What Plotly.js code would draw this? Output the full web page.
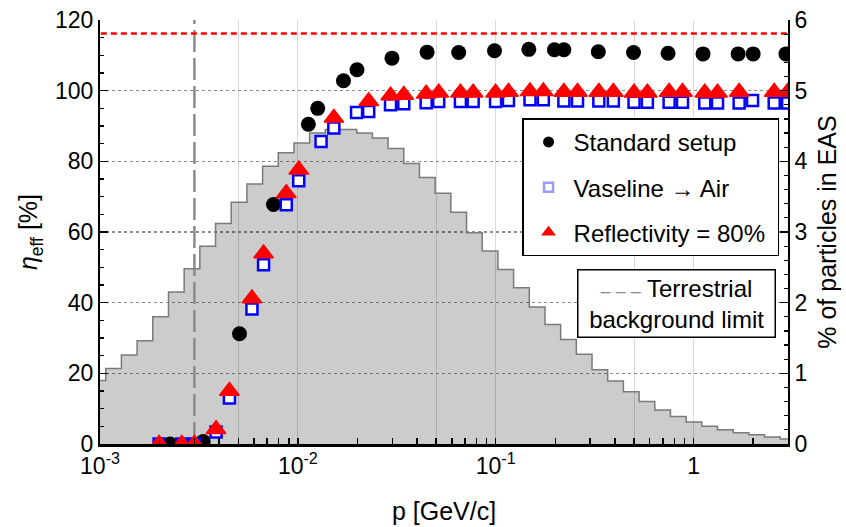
<!DOCTYPE html>
<html>
<head>
<meta charset="utf-8">
<script src="https://cdn.plot.ly/plotly-3.0.1.min.js"></script>
<style>html,body{margin:0;padding:0;background:#fff;}</style>
</head>
<body>
<div id="chart" style="width:846px;height:527px;"></div>
<script>
// ---- Data ----
// Histogram of particle momenta in EAS (% of particles), bin edges in GeV/c
const histEdges = [0.000891, 0.001069, 0.001283, 0.001540, 0.001848, 0.002219, 0.002663, 0.003196, 0.003837, 0.004605,
  0.005527, 0.006634, 0.007963, 0.009558, 0.01147, 0.01377, 0.01653, 0.01984, 0.02381, 0.02858,
  0.03430, 0.04117, 0.04942, 0.05932, 0.07120, 0.08546, 0.1026, 0.1231, 0.1478, 0.1774,
  0.2129, 0.2555, 0.3067, 0.3681, 0.4418, 0.5303, 0.6365, 0.7640, 0.9170, 1.101,
  1.321, 1.586, 1.903, 2.284, 2.742, 3.291];
const histPct = [0.90, 1.07, 1.26, 1.46, 1.80, 2.15, 2.48, 2.80, 3.12, 3.42,
  3.68, 3.93, 4.12, 4.26, 4.40, 4.45, 4.45, 4.40, 4.33, 4.18,
  3.97, 3.77, 3.55, 3.28, 2.99, 2.73, 2.47, 2.21, 1.94, 1.69,
  1.48, 1.27, 1.05, 0.89, 0.74, 0.60, 0.48, 0.39, 0.31, 0.25,
  0.20, 0.16, 0.13, 0.10, 0.07];

// Standard setup
const stdP = [0.00226, 0.00332, 0.00507, 0.00753, 0.0113, 0.0126, 0.0170, 0.0199, 0.0299, 0.0450,
  0.0650, 0.0986, 0.147, 0.198, 0.221, 0.330, 0.497, 0.743, 1.116, 1.679, 2.00, 2.93];
const stdEff = [0.0, 0.7, 31.2, 67.8, 90.5, 95.0, 102.8, 105.9, 109.2, 110.9,
  110.8, 111.3, 111.7, 111.6, 111.6, 111.0, 110.8, 110.6, 110.4, 110.4, 110.4, 110.4];

// Vaseline -> Air
const vasP = [0.00199, 0.00259, 0.00300, 0.00386, 0.00451, 0.00586, 0.00671, 0.00874, 0.0101, 0.0131,
  0.0152, 0.0198, 0.0228, 0.0294, 0.0343, 0.0445, 0.0515, 0.0663, 0.0769, 0.0998,
  0.116, 0.149, 0.174, 0.221, 0.259, 0.332, 0.393, 0.500, 0.584, 0.752,
  0.879, 1.139, 1.321, 1.699, 1.986, 2.555, 2.987];
const vasEff = [0.0, 0.0, 0.0, 3.4, 13.0, 38.2, 50.7, 67.7, 74.5, 85.6,
  89.4, 93.8, 94.1, 96.0, 96.3, 96.6, 96.9, 96.9, 96.9, 96.9,
  97.2, 97.4, 97.4, 97.1, 97.1, 97.1, 97.1, 96.7, 96.7, 96.7,
  96.7, 96.5, 96.5, 96.5, 97.2, 96.5, 96.5];

// Reflectivity = 80%
const refP = [0.00199, 0.00259, 0.00300, 0.00386, 0.00451, 0.00586, 0.00671, 0.00874, 0.0101, 0.0152,
  0.0228, 0.0294, 0.0343, 0.0445, 0.0515, 0.0663, 0.0769, 0.0998, 0.116, 0.149,
  0.174, 0.221, 0.259, 0.332, 0.393, 0.500, 0.584, 0.752, 0.879, 1.139,
  1.321, 1.699, 2.555, 2.987];
const refEff = [0.0, 0.0, 0.0, 4.2, 15.0, 41.2, 53.9, 71.0, 77.6, 92.3,
  97.0, 98.6, 98.8, 99.1, 99.4, 99.4, 99.4, 99.4, 99.6, 99.8,
  99.8, 99.6, 99.6, 99.6, 99.6, 99.4, 99.4, 99.6, 99.6, 99.4,
  99.4, 99.6, 99.6, 99.6];

const maxEff = 116.2;        // red dotted reference level [%]
const bgLimitP = 0.003;      // terrestrial background limit [GeV/c]

const xTickVals = [0.001, 0.005, 0.01, 0.05, 0.1, 0.5, 1];
const xTickText = ['10<sup>-3</sup>', '', '10<sup>-2</sup>', '', '10<sup>-1</sup>', '', '1'];
const effRange = [0, 120];
const pctRange = [0, 6];

// ---- Build ----
const minorX = [];
[0.001, 0.01, 0.1, 1].forEach(d => [2, 3, 4, 6, 7, 8, 9].forEach(m => minorX.push(d * m)));

const FONT = 'Liberation Sans, Arial, Helvetica, sans-serif';

const traces = [
  { // histogram (right axis)
    x: histEdges, y: histPct.concat([histPct[histPct.length - 1]]),
    xaxis: 'x', yaxis: 'y', type: 'scatter', mode: 'lines',
    line: { shape: 'hv', color: '#7a7a7a', width: 1.5 },
    fill: 'tozeroy', fillcolor: 'rgba(0,0,0,0.2)',
    showlegend: false, hoverinfo: 'skip'
  },
  { // background limit
    x: [bgLimitP, bgLimitP], y: pctRange, xaxis: 'x', yaxis: 'y',
    type: 'scatter', mode: 'lines',
    line: { color: '#8a8a8a', width: 2.5, dash: '22px,6px' },
    showlegend: false, hoverinfo: 'skip'
  },
  { // max efficiency
    x: [0.0008, 4], y: [maxEff, maxEff], xaxis: 'x', yaxis: 'y2',
    type: 'scatter', mode: 'lines',
    line: { color: '#ff0000', width: 2.5, dash: '6px,4px' },
    showlegend: false, hoverinfo: 'skip'
  },
  {
    x: stdP, y: stdEff, xaxis: 'x', yaxis: 'y2', type: 'scatter', mode: 'markers',
    marker: { symbol: 'circle', size: 15, color: '#000000' }, showlegend: false
  },
  {
    x: vasP, y: vasEff, xaxis: 'x', yaxis: 'y2', type: 'scatter', mode: 'markers',
    marker: { symbol: 'square', size: 11, color: '#ffffff', line: { color: '#0000ff', width: 2.5 } }, showlegend: false
  },
  {
    x: refP, y: refEff, xaxis: 'x', yaxis: 'y2', type: 'scatter', mode: 'markers',
    marker: { symbol: 'triangle-up', size: 17, color: '#ff0000', line: { color: '#ff0000', width: 1.5 } }, showlegend: false
  },
  // legend entries
  { x: [null], y: [null], xaxis: 'x', yaxis: 'y2', type: 'scatter', mode: 'markers', name: 'Standard setup',
    legendgroup: 'a', marker: { symbol: 'circle', size: 11, color: '#000000' } },
  { x: [null], y: [null], xaxis: 'x', yaxis: 'y2', type: 'scatter', mode: 'markers', name: 'Vaseline \u2192 Air',
    legendgroup: 'b', marker: { symbol: 'square', size: 9, color: '#ffffff', line: { color: '#9a9aff', width: 2.5 } } },
  { x: [null], y: [null], xaxis: 'x', yaxis: 'y2', type: 'scatter', mode: 'markers', name: 'Reflectivity = 80%\u00a0',
    legendgroup: 'c', marker: { symbol: 'triangle-up', size: 13, color: '#ff0000' } }
];

const layout = {
  width: 846, height: 527,
  margin: { l: 100, r: 58, t: 20, b: 82.5 },
  paper_bgcolor: '#ffffff', plot_bgcolor: '#ffffff',
  font: { family: FONT, size: 23, color: '#000000' },
  showlegend: true,
  legend: {
    x: 0.987, xanchor: 'right', y: 0.768, yanchor: 'top',
    bgcolor: '#ffffff', bordercolor: '#000000', borderwidth: 1.5,
    font: { family: FONT, size: 24, color: '#000000' },
    tracegroupgap: 11, itemsizing: 'trace', itemwidth: 40
  },
  xaxis: {
    type: 'log', range: [-3, Math.log10(3)],
    tickmode: 'array', tickvals: xTickVals, ticktext: xTickText,
    ticks: 'inside', ticklen: 6, tickwidth: 1.5, tickcolor: '#000',
    showgrid: true, gridcolor: '#d9d9d9', gridwidth: 1,
    minor: { tickmode: 'array', tickvals: minorX, ticks: 'inside', ticklen: 6, tickwidth: 1.5, tickcolor: '#000', showgrid: false },
    showline: true, linecolor: '#000', linewidth: 2.5, zeroline: false,
    tickfont: { size: 23 },
    title: { text: 'p [GeV/c]', font: { size: 25 }, standoff: 25 }
  },
  yaxis: {
    side: 'right', range: pctRange, dtick: 1,
    ticks: 'inside', ticklen: 8, tickwidth: 1.5, tickcolor: '#000',
    minor: { dtick: 0.2, ticks: 'inside', ticklen: 4, tickwidth: 1.2, tickcolor: '#000', showgrid: false },
    showgrid: true, griddash: 'dot', gridcolor: '#8c8c8c', gridwidth: 1.5,
    showline: true, linecolor: '#000', linewidth: 2, zeroline: false,
    tickfont: { size: 23 },
    title: { text: '% of particles in EAS', font: { size: 25 }, standoff: 12 }
  },
  yaxis2: {
    overlaying: 'y', side: 'left', range: effRange, dtick: 20,
    ticks: 'inside', ticklen: 8, tickwidth: 1.5, tickcolor: '#000',
    minor: { dtick: 5, ticks: 'inside', ticklen: 4, tickwidth: 1.2, tickcolor: '#000', showgrid: false },
    showgrid: false, showline: true, linecolor: '#000', linewidth: 2, zeroline: false,
    tickfont: { size: 23 },
    title: { text: '<i>\u03b7</i><sub>eff</sub> [%]', font: { size: 25 }, standoff: 10 }
  },
  annotations: [{
    xref: 'paper', yref: 'paper', x: 0.838, y: 0.331, xanchor: 'center', yanchor: 'middle',
    text: '<span style="color:#8a8a8a;font-size:18px">\u2013 \u2013 \u2013</span> Terrestrial<br>\u00a0background limit\u00a0',
    showarrow: false, align: 'center',
    font: { family: FONT, size: 24, color: '#000' },
    bgcolor: '#ffffff', bordercolor: '#000000', borderwidth: 1.5, borderpad: 4
  }]
};

Plotly.newPlot('chart', traces, layout, { displayModeBar: false, staticPlot: true });
</script>
</body>
</html>
